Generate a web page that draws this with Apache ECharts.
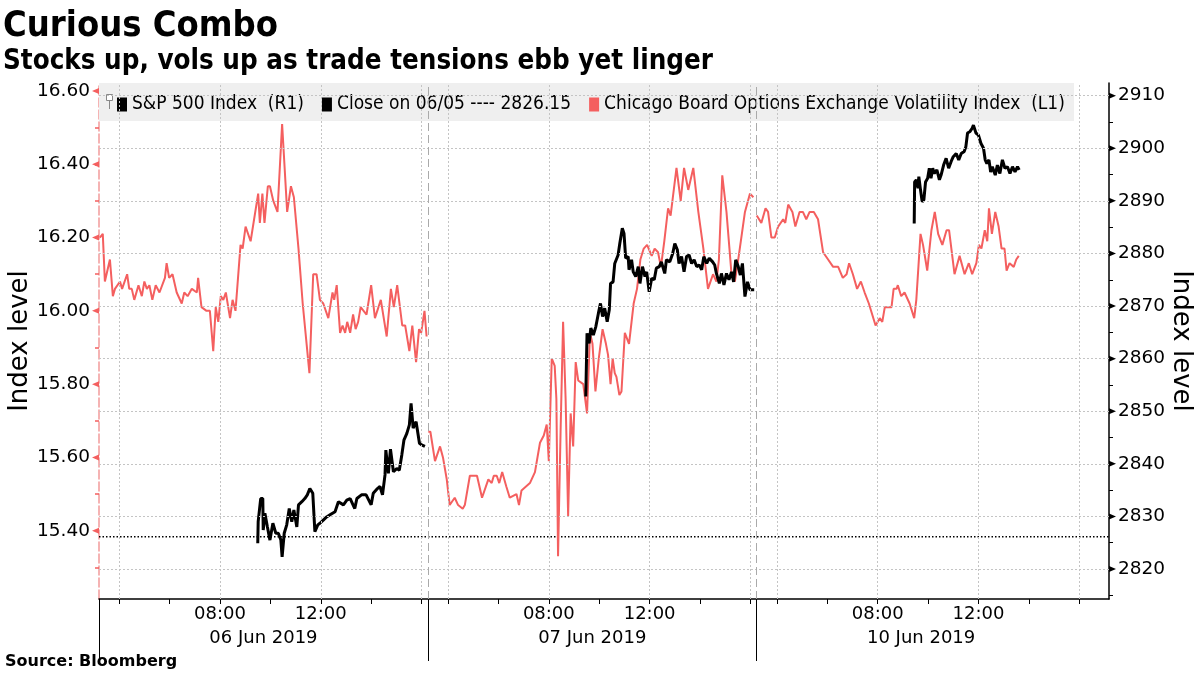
<!DOCTYPE html>
<html><head><meta charset="utf-8">
<script src="https://cdn.jsdelivr.net/npm/echarts@6/dist/echarts.min.js"></script>
<style>html,body{margin:0;padding:0;background:#fff}#chart{width:1200px;height:675px}</style>
</head><body><div id="chart"></div>
<script>
// ---------------- data ----------------
const days = ['06 Jun 2019', '07 Jun 2019', '10 Jun 2019'];
const hourLabels = ['08:00', '12:00'];
const leftTickLabels = ['15.40', '15.60', '15.80', '16.00', '16.20', '16.40', '16.60'];
const rightTickLabels = ['2820', '2830', '2840', '2850', '2860', '2870', '2880', '2890', '2900', '2910'];
const closeLabel = 'Close on 06/05 ---- 2826.15';
const closeLevel = 2826.15;
const spxName = 'S&P 500 Index  (R1)';
const vixName = 'Chicago Board Options Exchange Volatility Index  (L1)';

const vixDay1 = [['03:14',16.20],['03:21',16.21],['03:26',16.08],['03:38',16.14],['03:45',16.04],['03:50',16.06],['04:02',16.08],['04:07',16.06],['04:19',16.10],['04:24',16.06],['04:30',16.06],['04:36',16.03],['04:46',16.07],['04:54',16.04],['05:00',16.08],['05:06',16.06],['05:12',16.07],['05:19',16.03],['05:27',16.07],['05:36',16.05],['05:49',16.09],['05:53',16.13],['05:59',16.09],['06:07',16.10],['06:17',16.05],['06:29',16.02],['06:35',16.05],['06:43',16.04],['06:53',16.06],['07:05',16.05],['07:08',16.09],['07:16',16.01],['07:28',16.00],['07:36',16.00],['07:44',15.89],['07:50',16.01],['07:56',15.97],['08:02',16.04],['08:08',16.03],['08:14',16.05],['08:24',15.98],['08:30',16.03],['08:37',16.00],['08:49',16.18],['08:54',16.17],['09:01',16.23],['09:13',16.19],['09:31',16.32],['09:35',16.24],['09:41',16.32],['09:46',16.24],['09:54',16.34],['09:59',16.34],['10:07',16.30],['10:17',16.27],['10:28',16.51],['10:40',16.27],['10:49',16.34],['10:56',16.31],['11:07',16.17],['11:17',16.02],['11:33',15.83],['11:42',16.10],['11:50',16.10],['11:58',16.03],['12:06',16.02],['12:18',15.98],['12:28',16.05],['12:32',16.03],['12:38',16.07],['12:46',15.94],['12:52',15.96],['12:58',15.94],['13:03',15.97],['13:10',15.94],['13:17',15.99],['13:23',15.95],['13:29',15.97],['13:35',16.01],['13:49',15.99],['14:00',16.07],['14:09',15.98],['14:23',16.03],['14:37',15.93],['14:47',16.06],['14:54',16.01],['15:02',16.07],['15:14',15.96],['15:21',15.96],['15:31',15.89],['15:38',15.96],['15:47',15.86],['15:54',15.95],['15:59',15.94],['16:07',16.00],['16:12',15.93]];
const vixDay2 = [['03:13',15.67],['03:18',15.67],['03:29',15.59],['03:41',15.63],['03:48',15.60],['03:57',15.54],['04:04',15.47],['04:16',15.49],['04:24',15.47],['04:35',15.46],['04:40',15.47],['04:52',15.55],['05:09',15.55],['05:21',15.49],['05:36',15.54],['05:44',15.53],['05:49',15.55],['05:56',15.55],['06:02',15.53],['06:09',15.56],['06:19',15.52],['06:27',15.49],['06:43',15.50],['06:49',15.47],['06:55',15.51],['07:05',15.52],['07:15',15.53],['07:27',15.56],['07:39',15.64],['07:48',15.66],['07:55',15.69],['08:00',15.59],['08:07',15.87],['08:14',15.85],['08:18',15.76],['08:22',15.33],['08:28',15.67],['08:34',15.97],['08:40',15.76],['08:46',15.44],['08:52',15.72],['08:58',15.63],['09:04',15.86],['09:10',15.81],['09:22',15.80],['09:31',15.72],['09:38',15.94],['09:44',15.91],['09:51',15.78],['09:59',15.87],['10:08',15.95],['10:16',15.91],['10:21',15.88],['10:27',15.80],['10:32',15.87],['10:37',15.83],['10:41',15.82],['10:48',15.77],['10:53',15.78],['11:01',15.94],['11:11',15.91],['11:22',16.02],['11:30',16.06],['11:38',16.14],['11:46',16.17],['11:54',16.18],['12:05',16.15],['12:12',16.17],['12:20',16.16],['12:27',16.12],['12:35',16.19],['12:44',16.28],['12:50',16.26],['13:04',16.39],['13:14',16.30],['13:22',16.39],['13:32',16.33],['13:44',16.39],['13:56',16.27],['14:08',16.17],['14:19',16.06],['14:31',16.10],['14:39',16.08],['14:45',16.14],['14:53',16.37],['15:03',16.27],['15:15',16.10],['15:23',16.08],['15:31',16.14],['15:47',16.27],['15:51',16.27],['15:59',16.32],['16:07',16.31]];
const vixDay3 = [['03:12',16.26],['03:23',16.24],['03:33',16.28],['03:39',16.27],['03:47',16.20],['03:55',16.20],['04:03',16.23],['04:15',16.25],['04:20',16.24],['04:27',16.29],['04:37',16.27],['04:44',16.23],['04:54',16.27],['05:02',16.27],['05:10',16.25],['05:18',16.27],['05:28',16.27],['05:38',16.25],['05:50',16.16],['06:02',16.14],['06:14',16.12],['06:26',16.12],['06:37',16.09],['06:46',16.10],['06:52',16.13],['07:01',16.10],['07:11',16.06],['07:20',16.08],['07:29',16.05],['07:39',16.02],['07:47',15.99],['07:55',15.96],['08:05',15.98],['08:11',15.97],['08:17',16.01],['08:33',16.01],['08:38',16.06],['08:45',16.06],['08:48',16.07],['08:56',16.04],['09:04',16.05],['09:16',16.02],['09:27',15.98],['09:32',16.03],['09:36',16.03],['09:42',16.21],['09:48',16.18],['09:58',16.11],['10:08',16.22],['10:16',16.27],['10:24',16.21],['10:34',16.18],['10:44',16.22],['10:50',16.22],['11:03',16.10],['11:15',16.15],['11:27',16.10],['11:37',16.13],['11:45',16.10],['11:55',16.13],['12:01',16.18],['12:07',16.17],['12:15',16.22],['12:21',16.19],['12:25',16.28],['12:32',16.21],['12:40',16.27],['12:48',16.23],['12:55',16.17],['13:02',16.17],['13:07',16.11],['13:14',16.13],['13:24',16.12],['13:30',16.14],['13:36',16.15]];

const spxDay1 = [['09:30',2824.9],['09:31',2829.0],['09:37',2833.4],['09:42',2833.4],['09:43',2827.4],['09:47',2830.6],['09:53',2828.0],['09:59',2825.5],['10:06',2828.7],['10:13',2826.8],['10:19',2826.8],['10:25',2825.5],['10:28',2822.3],['10:33',2826.8],['10:39',2828.4],['10:45',2831.5],['10:51',2829.0],['10:56',2831.2],['11:03',2828.0],['11:07',2832.2],['11:15',2832.8],['11:22',2833.4],['11:28',2834.1],['11:34',2835.3],['11:41',2834.4],['11:46',2827.1],['11:53',2828.4],['11:58',2828.7],['12:06',2829.3],['12:14',2829.9],['12:22',2830.3],['12:34',2830.9],['12:42',2832.8],['12:54',2832.2],['13:02',2833.1],['13:10',2833.4],['13:21',2831.5],['13:26',2833.4],['13:37',2834.1],['13:48',2834.1],['14:00',2832.2],['14:05',2834.4],['14:15',2835.3],['14:21',2835.7],['14:27',2834.1],['14:33',2837.9],['14:35',2842.6],['14:41',2838.2],['14:46',2842.8],['14:53',2838.5],['15:01',2839.1],['15:07',2838.8],['15:13',2841.7],['15:18',2844.5],['15:25',2845.8],['15:31',2847.4],['15:35',2851.5],['15:39',2851.8],['15:40',2846.8],['15:47',2848.0],['15:51',2848.3],['15:55',2843.9],['16:00',2843.6],['16:08',2843.3]];
const spxDay2 = [['09:28',2852.8],['09:31',2864.8],['09:36',2862.9],['09:40',2865.8],['09:46',2864.5],['09:52',2866.1],['09:58',2868.6],['10:03',2870.5],['10:08',2868.0],['10:13',2869.6],['10:19',2867.0],['10:24',2869.3],['10:27',2874.3],['10:33',2874.6],['10:37',2878.1],['10:45',2879.7],['10:49',2881.9],['10:55',2884.8],['10:59',2883.8],['11:03',2879.1],['11:09',2879.4],['11:11',2876.9],['11:17',2878.8],['11:21',2876.5],['11:27',2875.6],['11:33',2877.5],['11:37',2874.3],['11:43',2877.5],['11:49',2875.6],['11:53',2876.5],['11:59',2872.7],['12:05',2875.3],['12:11',2875.0],['12:16',2877.2],['12:23',2877.5],['12:28',2878.4],['12:36',2876.2],['12:40',2878.8],['12:48',2878.4],['12:55',2880.0],['13:00',2881.9],['13:06',2880.7],['13:10',2878.1],['13:16',2879.4],['13:22',2876.5],['13:28',2879.4],['13:34',2879.7],['13:40',2878.1],['13:46',2878.8],['13:52',2877.5],['13:58',2877.8],['14:04',2876.9],['14:09',2879.4],['14:16',2878.1],['14:22',2879.1],['14:30',2878.4],['14:35',2877.8],['14:39',2876.2],['14:46',2874.3],['14:51',2876.2],['14:57',2874.0],['15:03',2876.2],['15:09',2875.0],['15:15',2876.5],['15:20',2874.6],['15:25',2878.8],['15:31',2877.5],['15:36',2875.9],['15:41',2878.1],['15:47',2871.8],['15:53',2874.6],['15:59',2873.1],['16:09',2873.1]];
const spxDay3 = [['09:27',2885.7],['09:28',2893.6],['09:32',2894.0],['09:36',2892.4],['09:38',2894.6],['09:42',2892.1],['09:46',2889.8],['09:50',2890.2],['09:54',2893.6],['09:59',2894.3],['10:03',2896.2],['10:07',2894.3],['10:11',2896.2],['10:15',2895.2],['10:21',2895.9],['10:27',2894.0],['10:31',2894.9],['10:37',2896.8],['10:43',2898.1],['10:49',2896.2],['10:55',2897.5],['11:00',2898.4],['11:07',2899.0],['11:13',2897.8],['11:19',2899.0],['11:26',2899.4],['11:30',2900.3],['11:34',2902.9],['11:40',2903.2],['11:45',2903.8],['11:48',2904.4],['11:54',2902.9],['12:00',2902.5],['12:06',2900.9],['12:12',2900.0],['12:16',2897.8],['12:20',2897.1],['12:25',2897.8],['12:29',2895.5],['12:33',2896.5],['12:40',2894.9],['12:45',2896.8],['12:51',2895.2],['12:57',2897.8],['13:03',2896.2],['13:09',2896.5],['13:15',2895.2],['13:21',2896.5],['13:27',2895.5],['13:33',2896.5],['13:37',2895.9]];

// ---------------- axis geometry (session time in hours) ----------------
const SESSION_START = 3.2;   // 03:12
const DAY_LEN = 13.05;       // 03:12 -> 16:15
const X_MAX = 40.08;
const LEFT_MIN = 15.2136, LEFT_MAX = 16.6218;
const RIGHT_MIN = 2814.3, RIGHT_MAX = 2912.41;

const toX = (d, t) => { const [h, m] = t.split(':').map(Number); return d * DAY_LEN + h + m / 60 - SESSION_START; };
const pts = (d, arr) => arr.map(([t, v]) => [toX(d, t), v]);

const tickHours = [4, 6, 8, 10, 12, 14, 16];
const gridHours = [4, 8, 12, 16];
const xTicks = [], xGrid = [], xLabels = [];
days.forEach((_, d) => {
  tickHours.forEach(h => xTicks.push(d * DAY_LEN + h - SESSION_START));
  gridHours.forEach(h => xGrid.push(d * DAY_LEN + h - SESSION_START));
  hourLabels.forEach(l => xLabels.push(toX(d, l)));
});
const daySeps = days.map((_, d) => d * DAY_LEN);
const dayCenters = days.map((_, d) => d * DAY_LEN + DAY_LEN / 2);

const leftMajor = leftTickLabels.map(Number);
const leftAll = [];
leftMajor.forEach(v => { leftAll.push(v); leftAll.push(+(v - 0.1).toFixed(2)); });
const rightMajor = rightTickLabels.map(Number);
const rightAll = [];
rightMajor.forEach(v => { rightAll.push(v); rightAll.push(v - 5); });

const RED = '#f45f5f';
const F = "'DejaVu Sans', sans-serif";
const FC = "'DejaVu Sans Condensed', 'DejaVu Sans', sans-serif";
const SQ = 'path://M0,0L10,0L10,14L0,14Z';

const chart = echarts.init(document.getElementById('chart'));

const gridLineStyle = { color: '#c4c4c4', type: [2, 2], width: 1 };
const markLines = [];
rightMajor.forEach(v => markLines.push({ yAxis: v, lineStyle: gridLineStyle }));
xGrid.forEach(v => markLines.push({ xAxis: v, lineStyle: gridLineStyle }));
daySeps.slice(1).forEach(v => markLines.push({ xAxis: v, lineStyle: { color: '#aaaaaa', type: [8, 4], width: 1 } }));

const series = [
  {
    name: 'gridHelper', type: 'line', xAxisIndex: 0, yAxisIndex: 1, data: [], z: 1, silent: true,
    markLine: { silent: true, symbol: 'none', label: { show: false }, animation: false, data: markLines },
    markPoint: {
      silent: true, animation: false, label: { show: false },
      data: rightMajor.map(v => ({ coord: [X_MAX, v], symbol: 'triangle', symbolRotate: -90, symbolSize: [6, 7], symbolOffset: [3.5, 0], itemStyle: { color: '#000' } }))
    }
  },
  {
    name: 'leftHelper', type: 'line', xAxisIndex: 0, yAxisIndex: 0, data: [], z: 1, silent: true,
    markPoint: {
      silent: true, animation: false, label: { show: false },
      data: leftMajor.map(v => ({ coord: [0, v], symbol: 'triangle', symbolRotate: 90, symbolSize: [6, 7], symbolOffset: [-3.5, 0], itemStyle: { color: RED } }))
    }
  },
  {
    name: closeLabel, type: 'line', xAxisIndex: 0, yAxisIndex: 1, z: 2, symbol: 'none', silent: true,
    data: [[0, closeLevel], [X_MAX, closeLevel]],
    itemStyle: { color: '#000' }, lineStyle: { color: '#000', width: 1.5, type: [1.5, 2] }
  }
];
[vixDay1, vixDay2, vixDay3].forEach((arr, d) => series.push({
  name: vixName, type: 'line', xAxisIndex: 0, yAxisIndex: 0, z: 3, symbol: 'none',
  data: pts(d, arr), itemStyle: { color: RED }, lineStyle: { color: RED, width: 2 }
}));
[spxDay1, spxDay2, spxDay3].forEach((arr, d) => series.push({
  name: spxName, type: 'line', xAxisIndex: 0, yAxisIndex: 1, z: 4, symbol: 'none',
  data: pts(d, arr), itemStyle: { color: '#000' }, lineStyle: { color: '#000', width: 3 }
}));

const legendItem = (name, color) => ({ name, icon: SQ, itemStyle: { color, borderWidth: 0, opacity: 1 } });

const option = {
  animation: false,
  backgroundColor: '#fff',
  title: [
    { text: 'Curious Combo', left: 3, top: 9, padding: 0, textStyle: { fontFamily: FC, fontWeight: 'bold', fontSize: 36, color: '#000' } },
    { text: 'Stocks up, vols up as trade tensions ebb yet linger', left: 3, top: 48, padding: 0, textStyle: { fontFamily: FC, fontWeight: 'bold', fontSize: 27.5, color: '#000' } },
    { text: 'Source: Bloomberg', left: 5, top: 654, padding: 0, textStyle: { fontFamily: F, fontWeight: 'bold', fontSize: 16, color: '#000' } }
  ],
  legend: {
    data: [legendItem(spxName, '#000'), legendItem(closeLabel, '#000'), legendItem(vixName, RED)],
    left: 117, top: 95, padding: 0, itemGap: 18, itemWidth: 10, itemHeight: 14,
    itemStyle: { borderWidth: 0 }, lineStyle: { width: 0 },
    textStyle: { fontFamily: FC, fontSize: 19, color: '#000' }, selectedMode: false
  },
  graphic: [
    { type: 'rect', z: 1.5, silent: true, shape: { x: 99, y: 83, width: 975, height: 38 }, style: { fill: '#efefef' } },
    { type: 'rect', z: 5, silent: true, shape: { x: 106.5, y: 94.5, width: 6, height: 6 }, style: { fill: '#fff', stroke: '#888', lineWidth: 1 } },
    { type: 'line', z: 5, silent: true, shape: { x1: 109.5, y1: 100.5, x2: 109.5, y2: 109 }, style: { stroke: '#888', lineWidth: 1 } }
  ],
  grid: { left: 99, right: 91, top: 83, bottom: 76, containLabel: false, outerBoundsMode: 'none' },
  xAxis: [
    {
      type: 'value', min: 0, max: X_MAX, position: 'bottom',
      axisLine: { show: true, onZero: false, lineStyle: { color: '#000', width: 1.5 } },
      axisTick: { show: true, customValues: xTicks, length: 5, lineStyle: { color: '#000', width: 1 } },
      axisLabel: {
        customValues: xLabels, margin: 6, fontFamily: F, fontSize: 18, color: '#000',
        formatter: v => { const h = Math.round(((v % DAY_LEN) + SESSION_START) * 60); return String(Math.floor(h / 60)).padStart(2, '0') + ':' + String(h % 60).padStart(2, '0'); }
      },
      splitLine: { show: false }
    },
    {
      type: 'value', min: 0, max: X_MAX, position: 'bottom',
      axisLine: { show: false },
      axisTick: { show: true, customValues: daySeps, length: 62, lineStyle: { color: '#000', width: 1 } },
      axisLabel: {
        customValues: dayCenters, margin: 30, fontFamily: F, fontSize: 18, color: '#000',
        formatter: v => days[Math.floor(v / DAY_LEN)]
      },
      splitLine: { show: false }
    }
  ],
  yAxis: [
    {
      type: 'value', min: LEFT_MIN, max: LEFT_MAX, position: 'left',
      name: 'Index level', nameLocation: 'middle', nameGap: 66, nameRotate: 90, nameMoveOverlap: false,
      nameTextStyle: { fontFamily: F, fontSize: 26, color: '#000' },
      axisLine: { show: true, onZero: false, lineStyle: { color: '#f29a9a', width: 1.5, type: [9, 3] } },
      axisTick: { show: true, customValues: leftAll, length: 4, lineStyle: { color: RED, width: 1.5 } },
      axisLabel: { customValues: leftMajor, margin: 9, padding: [6, 0, 0, 0], fontFamily: F, fontSize: 18.5, color: '#000', formatter: v => v.toFixed(2) },
      splitLine: { show: false }
    },
    {
      type: 'value', min: RIGHT_MIN, max: RIGHT_MAX, position: 'right',
      name: 'Index level', nameLocation: 'middle', nameGap: 59, nameRotate: -90, nameMoveOverlap: false,
      nameTextStyle: { fontFamily: F, fontSize: 26, color: '#000' },
      axisLine: { show: true, onZero: false, lineStyle: { color: '#000', width: 1.5 } },
      axisTick: { show: true, customValues: rightAll, length: 4, lineStyle: { color: '#000', width: 1 } },
      axisLabel: { customValues: rightMajor, margin: 9, padding: [6, 0, 0, 0], fontFamily: F, fontSize: 18.5, color: '#000', formatter: v => String(v) },
      splitLine: { show: false }
    }
  ],
  series: series
};
chart.setOption(option);
</script>
</body></html>
